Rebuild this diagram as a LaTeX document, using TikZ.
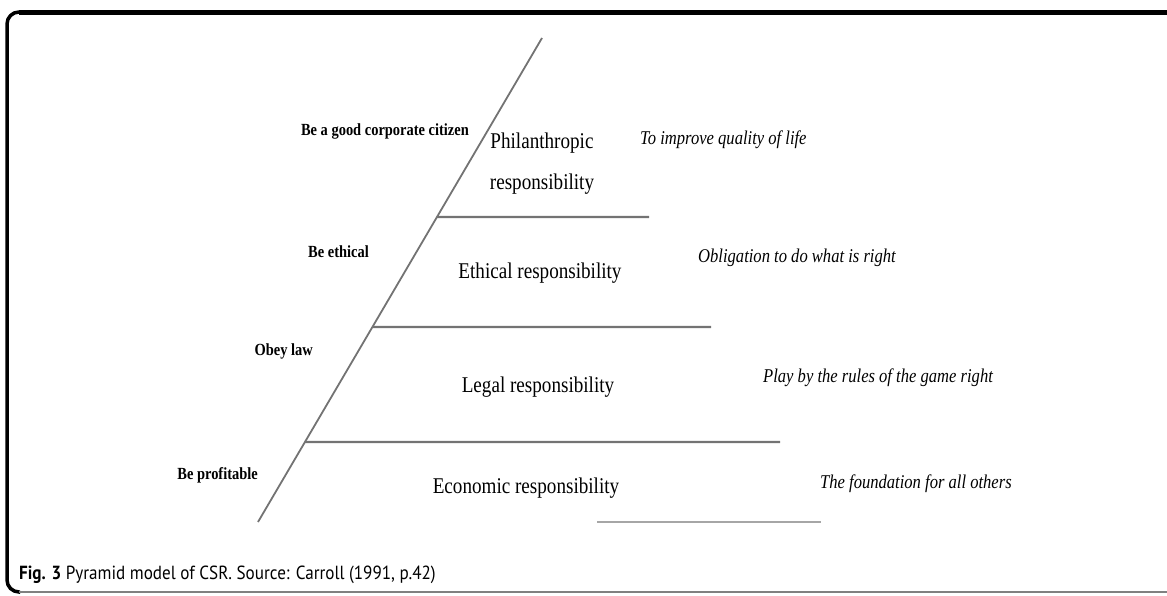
\documentclass[tikz,border=0pt]{standalone}
\usepackage{fontspec}
\setmainfont{Liberation Serif}
\newfontfamily\cond[FakeStretch=0.85]{Liberation Serif}
\newfontfamily\capfont[FakeStretch=0.9]{PT Sans}
\usetikzlibrary{calc}
\begin{document}
\begin{tikzpicture}[x=1pt,y=-1pt,
  level/.style={font=\cond\fontsize{22.5}{41}\selectfont, align=center, inner sep=0pt},
  duty/.style={font=\cond\bfseries\fontsize{17}{20}\selectfont, inner sep=0pt, anchor=east},
  aim/.style={font=\cond\itshape\fontsize{19.5}{23}\selectfont, inner sep=0pt, anchor=west},
  tier/.style={draw=black!55, line width=2.2pt},
  slant/.style={draw=black!55, line width=1.8pt},
  frametop/.style={draw=black, line width=5pt},
  frameside/.style={draw=black, line width=3.5pt, rounded corners=12pt},
  framebot/.style={draw=black!50, line width=2pt}]
\useasboundingbox (0,0) rectangle (1167,595);
% frame
\draw[frameside] (20,592) -- (7,592) -- (7,12) -- (20,12);
\draw[frametop] (19,12) -- (1172,12);
\draw[framebot] (19,592) -- (1172,592);
% pyramid
\coordinate (apex) at (542,38);
\coordinate (base) at (258,522);
\draw[slant] (apex) -- (base);
\coordinate (t1) at ($(apex)!0.3698!(base)$);
\coordinate (t2) at ($(apex)!0.5971!(base)$);
\coordinate (t3) at ($(apex)!0.8347!(base)$);
\coordinate (e1) at (649,217);
\coordinate (e2) at (711,327);
\coordinate (e3) at (780,442);
\coordinate (b1) at (597,522);
\coordinate (b2) at (821,522);
\draw[tier] (t1) -- (e1);
\draw[tier] (t2) -- (e2);
\draw[tier] (t3) -- (e3);
\draw[draw=black!35, line width=1.5pt] (b1) -- (b2);
% levels
\node[level] (phil) at (542,163.5) {Philanthropic\\responsibility};
\node[level] (eth) at (540,273) {Ethical responsibility};
\node[level] (leg) at (538,387) {Legal responsibility};
\node[level] (eco) at (526,488) {Economic responsibility};
% duties
\node[duty] (d1) at (469,131) {Be a good corporate citizen};
\node[duty] (d2) at (369,252) {Be ethical};
\node[duty] (d3) at (313,351) {Obey law};
\node[duty] (d4) at (258,475) {Be profitable};
% aims
\node[aim] (a1) at (640,140) {To improve quality of life};
\node[aim] (a2) at (698,258) {Obligation to do what is right};
\node[aim] (a3) at (763,378) {Play by the rules of the game right};
\node[aim] (a4) at (820,484) {The foundation for all others};
% caption
\node[anchor=west, inner sep=0pt, font=\capfont\fontsize{19}{23}\selectfont] (cap) at (19,575) {\textbf{Fig. 3} Pyramid model of CSR. Source: Carroll (1991, p.42)};
\end{tikzpicture}
\end{document}
